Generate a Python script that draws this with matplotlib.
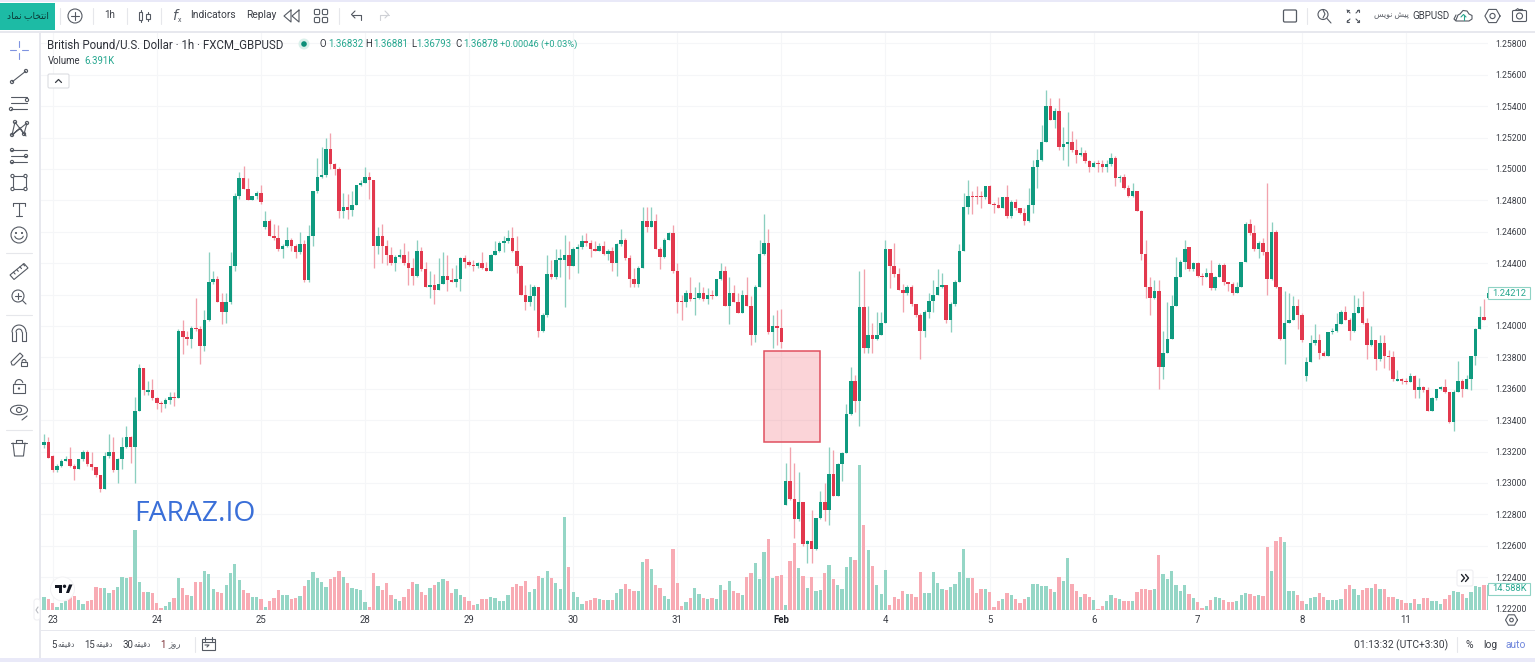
import numpy as np
import matplotlib
matplotlib.use("Agg")
import matplotlib.pyplot as plt
from matplotlib.patches import Rectangle, Circle, FancyBboxPatch, Polygon, Ellipse

# ---- data: hourly GBP/USD prices in 1/10000 units, volume in thousands ----
opens = [12324,12326,12317,12308,12311,12314,12315,12311,12309,12315,
12320,12312,12310,12305,12296,12317,12320,12308,12315,12323,
12329,12323,12346,12373,12358,12359,12354,12351,12350,12353,
12355,12354,12397,12393,12392,12399,12398,12387,12404,12428,
12430,12415,12409,12415,12438,12483,12494,12487,12480,12483,
12485,12463,12467,12457,12456,12449,12451,12455,12451,12447,
12452,12429,12457,12486,12495,12496,12513,12503,12500,12473,
12476,12474,12477,12490,12491,12495,12493,12451,12457,12451,
12445,12440,12444,12445,12440,12437,12432,12448,12436,12425,
12426,12423,12427,12432,12429,12428,12430,12443,12441,12439,
12438,12440,12437,12435,12445,12448,12453,12454,12456,12448,
12438,12420,12415,12419,12425,12397,12407,12433,12431,12442,
12442,12445,12438,12449,12450,12454,12453,12449,12448,12451,
12446,12448,12440,12452,12455,12443,12430,12427,12437,12467,
12463,12467,12449,12444,12455,12459,12435,12416,12415,12421,
12417,12418,12421,12417,12420,12419,12430,12435,12413,12421,
12415,12408,12420,12413,12394,12425,12446,12453,
12396,12400,12399,12286,12301,12290,12277,12288,12261,12263,
12258,12278,12288,12283,12306,12292,12312,12319,12344,12365,
12352,12412,12386,12394,12392,12394,12402,12449,12438,12433,
12423,12421,12425,12414,12407,12397,12409,12416,12420,12425,
12426,12404,12414,12428,12448,
12476,12483,12483,12483,12482,12489,12478,12477,12475,12482,
12470,12479,12475,12472,12467,12477,12501,12506,12517,12540,
12531,12537,12514,12516,12517,12512,12509,12510,12505,12501,
12504,12503,12501,12503,12507,12494,12495,12488,12483,12486,
12473,12446,12425,12418,12422,12374,12383,12392,12413,12431,
12441,12450,12436,12440,12432,12431,12434,12424,12431,12439,
12428,12427,12421,12425,12441,12465,12459,12449,
12453,12447,12430,12460,12425,12392,12402,12404,12413,12407,
12368,12377,12389,12391,12383,12381,12396,12397,12401,12409,
12404,12397,12408,12412,12402,12388,12391,12379,12389,12381,
12380,12365,12366,12365,12364,12368,12359,12361,12359,12346,
12354,12360,12361,12358,12339,12358,12365,12360,12366,12381,
12398,12406,12418]
highs = [12331,12329,12318,12312,12315,12317,12323,12312,12315,12321,
12321,12320,12310,12305,12320,12331,12329,12316,12329,12336,
12330,12355,12376,12373,12365,12366,12355,12352,12354,12358,
12358,12398,12404,12397,12400,12418,12400,12410,12447,12435,
12432,12421,12421,12447,12485,12498,12502,12494,12483,12486,
12490,12473,12468,12465,12464,12452,12463,12456,12452,12460,
12455,12464,12486,12507,12514,12520,12523,12504,12501,12485,
12484,12486,12490,12493,12501,12498,12493,12463,12465,12455,
12450,12445,12449,12453,12448,12443,12455,12450,12441,12435,
12433,12443,12447,12445,12437,12439,12444,12445,12442,12442,
12441,12447,12441,12446,12454,12454,12457,12461,12463,12457,
12439,12426,12427,12426,12425,12408,12445,12442,12449,12449,
12458,12454,12450,12452,12458,12459,12455,12454,12453,12454,
12449,12450,12453,12462,12456,12445,12437,12438,12476,12476,
12476,12471,12450,12456,12460,12464,12440,12420,12423,12431,
12425,12428,12425,12424,12423,12430,12440,12438,12431,12426,
12421,12423,12431,12419,12426,12455,12471,12462,
12407,12410,12411,12313,12323,12313,12307,12288,12264,12283,
12278,12295,12300,12323,12321,12313,12320,12350,12374,12369,
12435,12436,12413,12402,12409,12409,12455,12449,12453,12437,
12427,12426,12426,12414,12408,12410,12421,12429,12436,12434,
12426,12415,12429,12452,12485,
12493,12486,12489,12486,12489,12490,12479,12482,12482,12490,
12480,12481,12475,12475,12488,12506,12513,12528,12550,12545,
12539,12545,12527,12536,12524,12519,12514,12512,12506,12505,
12506,12506,12506,12510,12508,12496,12497,12490,12491,12486,
12474,12455,12431,12429,12429,12397,12415,12420,12444,12442,
12455,12450,12441,12441,12434,12437,12442,12432,12440,12440,
12428,12428,12428,12441,12466,12468,12464,12454,
12456,12491,12466,12461,12425,12422,12421,12419,12417,12408,
12380,12394,12401,12395,12384,12396,12399,12408,12410,12413,
12405,12420,12418,12422,12405,12400,12391,12394,12394,12385,
12384,12372,12367,12367,12370,12369,12367,12362,12361,12355,
12360,12362,12366,12358,12359,12378,12366,12369,12381,12399,
12413,12417,12421]
lows = [12322,12316,12307,12307,12310,12314,12310,12302,12309,12314,
12311,12308,12304,12294,12296,12316,12307,12300,12309,12322,
12313,12300,12346,12356,12356,12353,12347,12345,12348,12350,
12349,12354,12382,12388,12386,12397,12376,12384,12403,12427,
12415,12401,12402,12414,12435,12481,12487,12480,12480,12481,
12478,12462,12457,12455,12448,12443,12450,12448,12443,12446,
12428,12428,12451,12485,12494,12495,12500,12496,12469,12469,
12468,12470,12477,12489,12491,12481,12437,12446,12440,12439,
12439,12435,12443,12439,12426,12426,12431,12435,12425,12418,
12414,12423,12427,12422,12428,12425,12422,12437,12438,12435,
12437,12436,12435,12435,12445,12447,12447,12453,12447,12434,
12420,12410,12413,12410,12393,12396,12406,12430,12430,12431,
12412,12430,12438,12434,12449,12451,12444,12448,12448,12445,
12442,12435,12432,12451,12442,12425,12425,12425,12437,12460,
12463,12449,12436,12443,12455,12434,12408,12404,12412,12416,
12407,12417,12416,12414,12417,12419,12429,12413,12401,12415,
12408,12408,12413,12388,12390,12425,12445,12395,
12386,12388,12386,12286,12289,12265,12276,12260,12249,12249,
12257,12277,12276,12273,12292,12292,12301,12319,12343,12345,
12336,12383,12383,12383,12391,12394,12402,12424,12431,12423,
12409,12420,12413,12406,12379,12393,12405,12409,12420,12424,
12402,12396,12413,12428,12448,
12471,12471,12478,12475,12481,12478,12472,12475,12475,12469,
12469,12474,12471,12464,12466,12472,12488,12505,12517,12531,
12526,12512,12506,12502,12511,12504,12508,12504,12498,12501,
12498,12498,12498,12502,12489,12492,12487,12482,12482,12473,
12442,12418,12407,12417,12360,12366,12383,12392,12413,12431,
12436,12435,12435,12431,12426,12431,12423,12423,12431,12426,
12422,12420,12421,12425,12441,12458,12448,12443,
12445,12420,12429,12424,12391,12376,12402,12404,12398,12390,
12365,12377,12388,12379,12381,12381,12395,12396,12401,12404,
12391,12396,12408,12401,12379,12387,12372,12378,12373,12372,
12365,12365,12363,12363,12364,12354,12354,12358,12346,12346,
12353,12359,12357,12338,12333,12358,12355,12360,12359,12375,
12398,12404,12417]
closes = [12326,12316,12308,12311,12314,12315,12311,12309,12315,12320,
12312,12310,12305,12296,12317,12320,12308,12315,12323,12329,
12323,12346,12373,12359,12359,12354,12351,12350,12353,12355,
12354,12397,12393,12392,12399,12398,12387,12404,12428,12430,
12415,12409,12415,12438,12483,12494,12487,12480,12483,12485,
12479,12467,12457,12456,12449,12451,12455,12451,12447,12452,
12429,12457,12486,12495,12496,12513,12503,12500,12473,12476,
12474,12477,12490,12491,12495,12493,12451,12457,12451,12445,
12440,12444,12445,12440,12437,12432,12448,12436,12425,12426,
12423,12427,12432,12429,12428,12430,12443,12441,12439,12438,
12440,12437,12435,12445,12448,12453,12454,12456,12448,12438,
12420,12415,12419,12425,12397,12407,12433,12431,12442,12443,
12445,12438,12449,12450,12454,12453,12449,12448,12451,12446,
12448,12440,12452,12455,12443,12430,12427,12437,12467,12463,
12467,12449,12444,12455,12459,12435,12415,12415,12421,12417,
12418,12421,12417,12420,12419,12430,12435,12413,12421,12415,
12408,12420,12413,12394,12425,12446,12453,12396,
12400,12399,12390,12301,12290,12277,12288,12261,12263,12258,
12278,12288,12283,12306,12292,12312,12319,12344,12365,12352,
12412,12386,12394,12392,12394,12402,12449,12438,12433,12423,
12421,12425,12414,12407,12397,12409,12416,12420,12425,12426,
12404,12414,12428,12448,12476,
12483,12482,12482,12482,12489,12478,12477,12475,12482,12470,
12479,12475,12472,12467,12477,12501,12506,12517,12540,12531,
12537,12514,12516,12517,12512,12509,12510,12505,12501,12504,
12503,12501,12503,12507,12494,12495,12488,12483,12486,12473,
12446,12425,12418,12422,12374,12383,12392,12413,12431,12441,
12449,12436,12440,12432,12431,12434,12424,12431,12439,12428,
12427,12421,12425,12441,12465,12459,12449,12453,
12447,12430,12460,12425,12392,12402,12404,12413,12407,12391,
12377,12389,12391,12383,12381,12396,12397,12401,12409,12404,
12397,12408,12412,12402,12388,12391,12379,12389,12381,12380,
12366,12366,12365,12364,12368,12359,12361,12359,12346,12354,
12360,12361,12358,12339,12358,12365,12360,12366,12381,12398,
12406,12404,12421]
volumes = [7.3,6.6,3.9,1.5,3.9,5.4,7.3,8.1,5.8,3.5,5.4,5.8,13.1,13.0,12.8,9.7,11.6,13.5,18.9,18.6,19.3,46.4,16.2,10.2,10.2,10.1,4.3,1.0,2.5,4.8,6.8,18.4,12.8,8.9,8.1,16.2,16.0,22.8,20.9,12.4,10.2,10.1,14.3,21.3,26.5,17.2,11.6,9.7,7.7,7.7,6.6,1.5,5.4,6.8,11.6,8.7,8.9,6.2,6.8,8.1,13.9,17.2,22.0,18.6,16.2,13.1,17.8,19.3,22.8,19.3,15.9,12.8,12.0,11.6,4.8,1.9,21.6,14.1,11.6,15.5,8.5,6.4,5.4,7.3,12.0,16.2,15.1,10.2,8.9,12.8,14.3,16.2,17.8,16.6,9.7,12.0,8.9,7.7,5.4,2.9,3.5,6.2,6.4,7.3,7.0,5.4,5.4,8.5,13.1,14.9,13.9,16.6,10.6,
12.4,19.7,18.8,22.8,18.8,15.9,12.0,54.1,25.1,10.4,7.7,3.5,5.2,5.8,6.8,6.2,5.8,5.8,5.8,9.7,12.0,15.1,12.0,10.8,11.2,27.8,29.8,23.6,14.5,12.8,8.1,6.6,35.2,15.9,2.5,4.8,7.0,13.0,9.1,7.2,6.6,7.0,6.6,14.3,11.6,16.8,11.2,10.1,8.9,19.3,21.3,27.4,18.2,33.8,41.4,18.4,19.7,20.5,3.1,28.6,38.9,24.4,19.7,12.6,18.9,11.0,11.4,21.5,26.1,17.8,14.3,12.0,24.7,30.9,28.8,84.1,49.5,34.6,25.5,14.7,9.1,23.2,3.1,7.3,6.2,11.2,9.1,9.1,7.3,22.2,10.1,10.1,21.8,15.9,12.4,11.6,13.5,15.3,22.2,35.2,18.6,18.6,9.7,12.0,12.4,10.4,1.5,5.4,6.6,9.7,8.7,6.6,
4.3,6.4,7.3,15.1,15.1,13.9,14.1,12.4,10.6,18.9,16.6,30.3,15.1,11.0,7.5,9.1,7.7,5.6,0.8,2.5,5.2,8.7,6.8,6.2,5.0,5.2,5.4,10.2,12.0,12.0,11.8,12.0,31.7,20.9,18.0,22.8,14.7,11.2,14.3,9.1,7.2,4.6,1.0,2.1,5.6,7.3,7.2,5.6,4.6,4.6,5.2,8.7,9.9,9.5,8.1,8.9,8.1,36.7,22.8,40.0,42.3,39.2,11.0,10.8,8.5,5.0,3.5,7.0,7.5,9.9,7.5,6.0,5.8,6.0,6.4,12.0,14.7,12.4,8.7,11.6,12.8,12.6,15.3,12.0,12.0,7.5,7.5,6.2,5.8,4.1,4.3,6.2,3.7,7.0,7.0,5.2,5.2,3.7,6.4,8.5,11.0,10.4,9.5,6.8,10.4,13.7,13.3,14.5,
14.6]
day_labels = ['23','24','25','28','29','30','31','Feb','4','5','6','7','8','11']
price_ticks = [1.258,1.256,1.254,1.252,1.250,1.248,1.246,1.244,1.242,1.240,1.238,1.236,1.234,1.232,1.230,1.228,1.226,1.224,1.222]
hidden_price_label = 1.242   # covered by the last-price tag in the reference
gap_zone = dict(first_bar=165.9, last_bar=179.0, top=1.2384, bottom=1.2326)

UP, DOWN = '#0f9a7f', '#e2384d'
UP_W, DOWN_W = '#8ccfc0', '#f2a2ad'
UP_V, DOWN_V = '#95d6c6', '#f8abb4'
GRID = '#f5f6f8'
TXT = '#3a3d45'
W, H = 1535, 662
FONT = ['Roboto', 'DejaVu Sans']

o, h, l, c = [np.array(a) / 1e4 for a in (opens, highs, lows, closes)]
v = np.array(volumes)
assert len(o) == len(h) == len(l) == len(c) == len(v)
idx = np.arange(len(o))
up = c >= o

fig = plt.figure(figsize=(W / 100, H / 100), dpi=100, facecolor='white')
rect = [41 / W, (H - 610) / H, (1488 - 41) / W, (610 - 33) / H]
ax = fig.add_axes(rect, zorder=1)
ax_v = fig.add_axes(rect, zorder=2, sharex=ax)
ax_c = fig.add_axes(rect, zorder=3, sharex=ax, sharey=ax)
ui = fig.add_axes([0, 0, 1, 1], zorder=5)
ui.set_xlim(0, W); ui.set_ylim(H, 0); ui.axis('off')

# price axes
ax.set_xlim(-0.69, 332.9)
ax.set_ylim(1.22191, 1.25866)
ax.yaxis.tick_right()
ax.set_yticks(price_ticks)
ax.set_yticklabels(['' if t_ == hidden_price_label else f'{t_:.5f}' for t_ in price_ticks],
                   fontsize=6.2, color=TXT, family=FONT)
ax.tick_params(axis='y', length=0, pad=5)
xt = [2 + 24 * k for k in range(len(day_labels))]
ax.set_xticks(xt)
ax.set_xticklabels(day_labels, fontsize=6.9, color=TXT, family=FONT)
ax.tick_params(axis='x', length=0, pad=3.5)
for lab in ax.get_xticklabels():
    if lab.get_text() == 'Feb':
        lab.set_fontweight('bold'); lab.set_color('#23262e')
ax.grid(True, color=GRID, lw=0.75)
ax.set_axisbelow(True)
for s in ax.spines.values():
    s.set_visible(False)

# volume
ax_v.patch.set_visible(False)
ax_v.axis('off')
ax_v.set_ylim(0, 334.7)
ax_v.bar(idx, v, width=0.76, color=[UP_V if u else DOWN_V for u in up], linewidth=0)

# candles
ax_c.patch.set_visible(False)
ax_c.axis('off')
ax_c.add_patch(Rectangle((gap_zone['first_bar'], gap_zone['bottom']),
                         gap_zone['last_bar'] - gap_zone['first_bar'],
                         gap_zone['top'] - gap_zone['bottom'],
                         facecolor=(0.93, 0.16, 0.24, 0.2), edgecolor='#e0505f', lw=1.1, zorder=1))
ax_c.vlines(idx, l, h, colors=[UP_W if u else DOWN_W for u in up], lw=0.95, zorder=2)
body_low = np.minimum(o, c)
body_h = np.maximum(np.abs(c - o), 0.00009)
ax_c.bar(idx, body_h, bottom=body_low, width=0.8,
         color=[UP if u else DOWN for u in up], linewidth=0, zorder=3)

# ---- interface frame ----
FR = '#e7e8ee'
LAV = '#e9e9f8'
ui.add_patch(Rectangle((0, 0), W, 31, fc='white', ec='none'))
ui.add_patch(Rectangle((0, 31), 38.5, 631, fc='white', ec='none'))
ui.add_patch(Rectangle((0, 630), W, 32, fc='white', ec='none'))
ui.add_patch(Rectangle((0, 0), W, 2, fc=LAV, ec='none'))
ui.add_patch(Rectangle((0, 30.5), W, 2.5, fc=FR, ec='none'))
ui.add_patch(Rectangle((38.5, 31), 2.5, 630, fc=FR, ec='none'))
ui.add_patch(Rectangle((41, 629.5), W, 1, fc=FR, ec='none'))
ui.add_patch(Rectangle((0, 657.5), W, 5, fc=LAV, ec='none'))
ui.add_patch(Rectangle((0, 3), 55, 27, fc='#1dbba5', ec='none'))

def t(x, y, s, size=7.1, color=TXT, ha='left', **kw):
    ui.text(x, y, s, fontsize=size, color=color, ha=ha, va='center', family=FONT, **kw)

ICON = '#555a63'
def line(xs, ys, color=ICON, lw=0.8):
    ui.plot(xs, ys, color=color, lw=lw, solid_capstyle='round', solid_joinstyle='round')
def circ(x, y, r, color=ICON, lw=0.8, fc='none'):
    ui.add_patch(Circle((x, y), r, fc=fc, ec=color, lw=lw))
def box(x0, y0, w, h_, color=ICON, lw=0.8, fc='none'):
    ui.add_patch(Rectangle((x0, y0), w, h_, fc=fc, ec=color, lw=lw))
for x, y0, y1 in [(60, 8, 24), (93, 8, 24), (127, 8, 24), (161, 8, 24), (339, 8, 24), (1307, 8, 24)]:
    line([x, x], [y0, y1], color='#e6e7eb')
for y in [253, 315, 430]:
    line([6, 32], [y, y], color='#e6e7eb')
line([1457, 1457], [637, 652], color='#e6e7eb')
line([195, 195], [637, 652], color='#e6e7eb')

# top bar
t(27.5, 15.5, '\ufea9\ufe8e\ufee4\ufee7 \ufe8f\ufe8e\ufea8\ufe98\ufee7\ufe8d', 6.6, '#0b3d38', ha='center')
circ(75, 16, 7); line([71, 79], [16, 16]); line([75, 75], [12, 20])
t(110, 15.5, '1h', ha='center')
for x, a, b in [(140.5, 10, 22), (148, 12, 21)]:
    box(x - 1.7, a + 2, 3.4, b - a - 4); line([x, x], [a, a + 2]); line([x, x], [b - 2, b])
t(172, 16, '$f$', 10, ICON); t(178, 20, 'x', 5, ICON)
t(190, 15.5, 'Indicators', 7.4)
t(246, 15.5, 'Replay', 7.4)
line([291, 284, 291, 291], [10, 16, 22, 10]); line([299, 292, 299, 299], [10, 16, 22, 10])
for x in (317, 325):
    for y in (12, 20):
        ui.add_patch(FancyBboxPatch((x - 2.6, y - 2.6), 5.2, 5.2, boxstyle='round,pad=0,rounding_size=1.2', fc='none', ec=ICON, lw=0.8))
line([352, 361, 361], [14.5, 14.5, 20]); line([355, 351.5, 355], [11, 14.5, 18])
line([389, 380, 380], [14.5, 14.5, 20], color='#cfd1d6'); line([385, 388.5, 385], [11, 14.5, 18], color='#cfd1d6')
ui.add_patch(FancyBboxPatch((1283.5, 10), 13, 12, boxstyle='round,pad=0,rounding_size=1.2', fc='none', ec=ICON, lw=0.9))
circ(1323, 14.5, 5); line([1327, 1331], [18.5, 23]); line([1323, 1325, 1323], [10, 14, 18])
for sx, sy in [(-1, -1), (1, -1), (-1, 1), (1, 1)]:
    line([1353 + sx * 6, 1353 + sx * 3], [16 + sy * 6, 16 + sy * 3]); line([1353 + sx * 6, 1353 + sx * 4], [16 + sy * 6, 16 + sy * 6]); line([1353 + sx * 6, 1353 + sx * 6], [16 + sy * 6, 16 + sy * 4])
t(1374, 16, '\ufeb2\ufbfe\ufeee\ufee7 \ufeb6\ufbff\ufb58', 5.7, '#5c6068')
t(1412, 16, 'GBPUSD', 7, TXT)
line([1456, 1458, 1460, 1463, 1467, 1469, 1472, 1472, 1469, 1456, 1454, 1456], [20, 15, 14, 10.5, 11, 14, 15.5, 19, 21, 21, 19, 15])
line([1463.5, 1463.5], [20, 14.5], color='#2aa58e'); line([1461, 1463.5, 1466], [17, 14.5, 17], color='#2aa58e')
th = np.radians(np.arange(0, 361, 60))
line(1492.5 + 7.6 * np.cos(th), 16 + 7.6 * np.sin(th)); circ(1492.5, 16, 2.6)
ui.add_patch(FancyBboxPatch((1512.5, 10.5), 14, 11, boxstyle='round,pad=0,rounding_size=1.2', fc='none', ec=ICON, lw=0.8))
circ(1519.5, 16, 3); line([1515, 1518], [10.5, 8.5]); line([1518, 1522], [8.5, 8.5])

# legends
t(47, 45, 'British Pound/U.S. Dollar \u00b7 1h \u00b7 FXCM_GBPUSD', 8.3, '#2e3139')
circ(304, 44, 5.5, color='none', fc='#d9f0ea', lw=0)
circ(304, 44, 2.8, color='none', fc='#0d8f79', lw=0)
GREEN = '#26a78f'
for key, val, xa, xb in [('O', '1.36832', 320, 328), ('H', '1.36881', 365, 373), ('L', '1.36793', 411, 416), ('C', '1.36878', 455, 463)]:
    t(xa, 44, key, 6.9, '#34373f'); t(xb, 44, val, 6.9, GREEN)
t(500, 44, '+0.00046 (+0.03%)', 6.7, GREEN)
t(48, 61.5, 'Volume', 6.9, '#34373f'); t(84, 61.5, '6.391K', 6.9, GREEN)
ui.add_patch(FancyBboxPatch((48, 74), 21, 14, boxstyle='round,pad=0,rounding_size=1.5', fc='white', ec='#dcdde2', lw=0.8))
line([55.5, 58.5, 61.5], [82.5, 79.5, 82.5], color='#3a3d45', lw=0.9)

# left toolbar
cx = 19
BL = '#7f93e0'
line([cx - 9, cx - 3], [50, 50], BL); line([cx + 3, cx + 9], [50, 50], BL); line([cx, cx], [41, 47], BL); line([cx, cx], [53, 59], BL)
def dot(x, y): circ(x, y, 1.6, fc='white')
line([12, 26], [82, 71]); dot(12, 82); dot(26, 71)
for y, x0, x1 in [(97, 11, 27), (103, 11, 27), (109, 11, 27)]:
    line([x0, x1], [y, y])
dot(27, 100); dot(11, 109)
line([12, 15, 24, 27, 12, 20, 26], [135, 122, 134, 123, 135, 128, 136]); [dot(a, b) for a, b in [(12, 135), (15, 122), (24, 134), (27, 123)]]
for y in (150, 156, 162):
    line([11, 27], [y, y])
dot(12, 150); dot(12, 162); dot(26, 156)
box(12.5, 176, 13, 13); [dot(a, b) for a in (12.5, 25.5) for b in (176, 189)]
line([13, 25], [203, 203]); line([13, 13], [203, 206]); line([25, 25], [203, 206]); line([19, 19], [203, 216]); line([16, 22], [216, 216])
circ(19, 235, 8); circ(16, 233, 0.5, fc=ICON); circ(22, 233, 0.5, fc=ICON)
a = np.linspace(0.2, np.pi - 0.2, 12); line(19 + 4.3 * np.cos(a), 235.5 + 3.6 * np.sin(a))
ui.add_patch(Polygon([(10, 275), (24, 263.5), (28, 268), (14, 279.5)], fc='none', ec=ICON, lw=0.8))
for k in range(4):
    xk = 13.5 + 3.2 * k; yk = 272.2 - 2.7 * k; line([xk, xk + 1.6], [yk, yk + 1.8])
circ(18, 296, 6); line([22.5, 26], [300.5, 304]); line([15, 21], [296, 296]); line([18, 18], [293, 299])
a = np.linspace(np.pi, 2 * np.pi, 14)
line(19 + 7 * np.cos(a), 332 + 7 * np.sin(a)); line(19 + 3 * np.cos(a), 332 + 3 * np.sin(a))
line([12, 12, 16, 16], [332, 341, 341, 332]); line([26, 26, 22, 22], [332, 341, 341, 332])
ui.add_patch(Polygon([(12, 365), (11, 362), (20, 353), (23, 356), (14, 365)], fc='none', ec=ICON, lw=0.8))
box(21, 361.5, 6, 4.5); a = np.linspace(np.pi, 2 * np.pi, 8); line(24 + 2 * np.cos(a), 361.5 + 2 * np.sin(a))
box(13, 384, 12, 9); a = np.linspace(np.pi, 1.9 * np.pi, 10); line(19 + 4 * np.cos(a), 384 + 4.5 * np.sin(a)); circ(19, 388.5, 0.6, fc=ICON)
ui.add_patch(Ellipse((19, 410), 17, 9.5, fc='none', ec=ICON, lw=0.8)); circ(19, 410, 2.5); line([22, 27], [420, 416])
line([11, 27], [443, 443]); line([16, 16, 22, 22], [443, 440, 440, 443]); line([13, 14.5, 23.5, 25], [443, 456, 456, 443])

# bottom bar
DQ = '\ufeea\ufed8\ufbff\ufed7\ufea9'
for xn, xw, num in [(51, 57, '5'), (84, 96, '15'), (122, 134, '30')]:
    t(xn, 645, num, 6.9); t(xw, 645, DQ, 5.6, '#5c6068')
t(160, 645, '1', 6.9, '#7a2f35'); t(168, 645, '\ufeaf\ufeed\ufead', 6.2, '#5c6068')
box(202, 639, 13, 11)
line([205, 205], [637, 641]); line([212, 212], [637, 641]); line([202, 215], [642, 642]); line([205, 209, 207], [645, 645, 647])
t(1354, 645, '01:13:32 (UTC+3:30)', 7.4)
t(1469, 645, '%', 7.4, ha='center'); t(1490, 645, 'log', 7.4, ha='center'); t(1516, 645, 'auto', 7.4, '#6f86dc', ha='center')

# value labels, widgets
for y0, txt in [(287, '1.24212'), (582.5, '14.588K')]:
    ui.add_patch(Rectangle((1488, y0), 42, 12, fc='white', ec='#8fd3c5', lw=0.8))
    t(1509, y0 + 6, txt, 6.7, GREEN, ha='center')
ui.add_patch(FancyBboxPatch((1457, 570), 16, 16, boxstyle='round,pad=0,rounding_size=2', fc='white', ec='#eeeef2', lw=0.8))
line([1461.5, 1464.5, 1461.5], [574.5, 578, 581.5], '#23262e', 1.0); line([1465.5, 1468.5, 1465.5], [574.5, 578, 581.5], '#23262e', 1.0)
line(1511.5 + 6 * np.cos(th), 620 + 6 * np.sin(th)); circ(1511.5, 620, 1.8)
ui.add_patch(FancyBboxPatch((34, 599), 6, 21, boxstyle='round,pad=0,rounding_size=2.5', fc='white', ec='#eeeef2', lw=0.7))
line([38, 36, 38], [607, 610, 613], '#b9bbc2', 0.8)
circ(62.5, 589, 12, color='#f2f2f4', fc='white', lw=0.7)
ui.add_patch(Polygon([(54.5, 584.5), (62, 584.5), (62, 593), (58.5, 593), (58.5, 588), (54.5, 588)], fc='#131722', ec='none'))
circ(64.5, 586.3, 1.7, color='none', fc='#131722', lw=0)
ui.add_patch(Polygon([(66, 593), (69, 584.5), (72.5, 584.5), (69, 593)], fc='#131722', ec='none'))
ui.text(134.5, 514, 'FARAZ.IO', fontsize=20.3, color='#3a6fd8', family='Open Sans', ha='left', va='center')

fig.savefig('out.png', dpi=100, facecolor='white')
